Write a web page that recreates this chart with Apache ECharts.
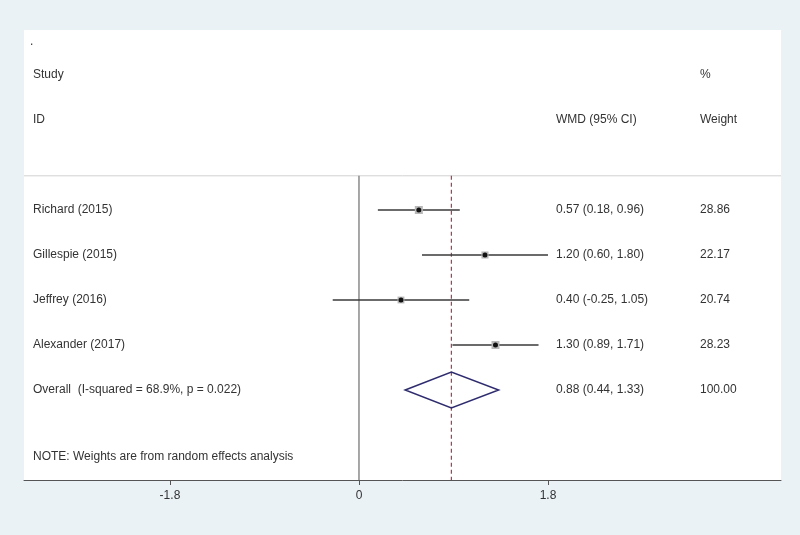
<!DOCTYPE html>
<html>
<head>
<meta charset="utf-8">
<script src="https://cdn.jsdelivr.net/npm/echarts@6/dist/echarts.min.js"></script>
<style>
  html, body { margin: 0; padding: 0; background: #eaf2f6; }
  #chart { width: 800px; height: 535px; }
</style>
</head>
<body>
<div id="chart"></div>
<script>
// study data
const studies = ['Richard (2015)', 'Gillespie (2015)', 'Jeffrey (2016)', 'Alexander (2017)'];
const est = [0.57, 1.20, 0.40, 1.30];
const lower = [0.18, 0.60, -0.25, 0.89];
const upper = [0.96, 1.80, 1.05, 1.71];
const weights = [28.86, 22.17, 20.74, 28.23];

// pooled estimate
const overallLabel = 'Overall  (I-squared = 68.9%, p = 0.022)';
const overallEst = 0.88;
const overallLower = 0.44;
const overallUpper = 1.33;
const overallWeight = 100.00;

const noteText = 'NOTE: Weights are from random effects analysis';
const xTicks = [-1.8, 0, 1.8];

// layout (pixel columns and row positions)
const FONT = '12px "Liberation Sans", Arial, sans-serif';
const TXT = '#333333';
const colStudy = 33, colCI = 556, colWeight = 700;
const sepRow = -0.76;
const fmt = v => v.toFixed(2);

// table rows: [row, left text, CI text, weight text]
const tableRows = [
  [-3.73, '.', '', ''],
  [-3, 'Study', '', '%'],
  [-2, 'ID', 'WMD (95% CI)', 'Weight']
];
studies.forEach((s, i) => {
  tableRows.push([i, s, fmt(est[i]) + ' (' + fmt(lower[i]) + ', ' + fmt(upper[i]) + ')', fmt(weights[i])]);
});
tableRows.push([4, overallLabel, fmt(overallEst) + ' (' + fmt(overallLower) + ', ' + fmt(overallUpper) + ')', fmt(overallWeight)]);
tableRows.push([5.49, noteText, '', '']);

const chart = echarts.init(document.getElementById('chart'));

const option = {
  backgroundColor: '#eaf2f6',
  animation: false,
  grid: {
    left: 24, right: 19, top: 30, bottom: 55,
    show: true, backgroundColor: '#ffffff', borderWidth: 0
  },
  xAxis: {
    type: 'value',
    min: -3.19,
    max: 4.019,
    axisLine: { show: true, onZero: false, lineStyle: { color: '#555555', width: 1 } },
    axisTick: { show: true, customValues: xTicks, length: 5, lineStyle: { color: '#555555' } },
    axisLabel: {
      customValues: xTicks, color: TXT, fontSize: 12, margin: 10,
      fontFamily: '"Liberation Sans", Arial, sans-serif',
      formatter: v => (v === 0 ? '0' : v.toFixed(1))
    },
    splitLine: { show: false }
  },
  yAxis: {
    type: 'value', inverse: true, min: -4, max: 6, show: false
  },
  series: [
    {
      // separator, null line and pooled-estimate line
      type: 'custom',
      silent: true,
      data: [[0, overallEst]],
      renderItem: (params, api) => {
        const s1 = api.coord([-3.19, sepRow]);
        const s2 = api.coord([4.019, sepRow]);
        const z1 = api.coord([api.value(0), sepRow]);
        const z2 = api.coord([api.value(0), 6]);
        const o1 = api.coord([api.value(1), sepRow]);
        const o2 = api.coord([api.value(1), 6]);
        return {
          type: 'group',
          children: [
            { type: 'line', shape: { x1: s1[0], y1: s1[1], x2: s2[0], y2: s2[1] },
              style: { stroke: '#d2d2d2', lineWidth: 1 } },
            { type: 'line', shape: { x1: z1[0], y1: z1[1], x2: z2[0], y2: z2[1] },
              style: { stroke: '#8a8a8a', lineWidth: 1.5 } },
            { type: 'line', shape: { x1: o1[0], y1: o1[1], x2: o2[0], y2: o2[1] },
              style: { stroke: '#b8364f', lineWidth: 1.2, lineDash: [4, 3] } }
          ]
        };
      }
    },
    {
      // confidence intervals with weight boxes
      type: 'custom',
      silent: true,
      data: studies.map((s, i) => [i, lower[i], upper[i], est[i], weights[i]]),
      renderItem: (params, api) => {
        const row = api.value(0);
        const p1 = api.coord([api.value(1), row]);
        const p2 = api.coord([api.value(2), row]);
        const pc = api.coord([api.value(3), row]);
        const sz = 1.5 * Math.sqrt(api.value(4));
        return {
          type: 'group',
          children: [
            { type: 'line', shape: { x1: p1[0], y1: p1[1], x2: p2[0], y2: p2[1] },
              style: { stroke: '#3a3a3a', lineWidth: 1.5 } },
            { type: 'rect', shape: { x: pc[0] - sz / 2, y: pc[1] - sz / 2, width: sz, height: sz },
              style: { fill: '#b8b8b8' } },
            { type: 'circle', shape: { cx: pc[0], cy: pc[1], r: 2.5 },
              style: { fill: '#111111' } }
          ]
        };
      }
    },
    {
      // pooled diamond
      type: 'custom',
      silent: true,
      data: [[4, overallLower, overallEst, overallUpper]],
      renderItem: (params, api) => {
        const row = api.value(0);
        const top = api.coord([api.value(2), row - 0.4]);
        const bot = api.coord([api.value(2), row + 0.4]);
        const l = api.coord([api.value(1), row]);
        const r = api.coord([api.value(3), row]);
        return {
          type: 'polygon',
          shape: { points: [l, top, r, bot] },
          style: { fill: 'none', stroke: '#2e2c6e', lineWidth: 1.5 }
        };
      }
    },
    {
      // text table
      type: 'custom',
      silent: true,
      data: tableRows.map(r => [0, r[0]]),
      renderItem: (params, api) => {
        const r = tableRows[params.dataIndex];
        const y = api.coord([0, api.value(1)])[1];
        const mk = (x, t) => ({
          type: 'text', x: x, y: y,
          style: { text: t, fill: TXT, font: FONT, textAlign: 'left', textVerticalAlign: 'middle' }
        });
        const kids = [mk(r[1] === '.' ? 30 : colStudy, r[1])];
        if (r[2]) kids.push(mk(colCI, r[2]));
        if (r[3]) kids.push(mk(colWeight, r[3]));
        return { type: 'group', children: kids };
      }
    }
  ]
};

chart.setOption(option);
</script>
</body>
</html>
